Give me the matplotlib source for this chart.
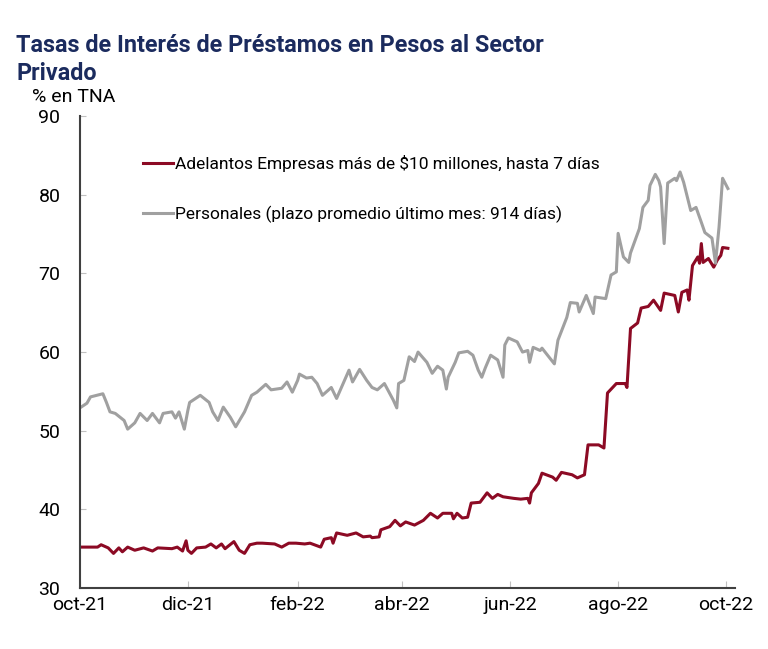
import pandas as pd
import matplotlib.pyplot as plt

plt.rcParams['font.family'] = ['Roboto', 'DejaVu Sans']

# Personales (gris)
pers_dates = [
    '2021-10-01', '2021-10-05', '2021-10-07', '2021-10-14', '2021-10-16', '2021-10-18',
    '2021-10-21', '2021-10-26', '2021-10-28', '2021-11-01', '2021-11-04', '2021-11-08',
    '2021-11-11', '2021-11-15', '2021-11-17', '2021-11-22', '2021-11-24', '2021-11-26',
    '2021-11-29', '2021-12-01', '2021-12-02', '2021-12-08', '2021-12-13', '2021-12-15',
    '2021-12-18', '2021-12-21', '2021-12-25', '2021-12-28', '2022-01-02', '2022-01-06',
    '2022-01-09', '2022-01-14', '2022-01-17', '2022-01-23', '2022-01-26', '2022-01-29',
    '2022-02-01', '2022-02-02', '2022-02-06', '2022-02-09', '2022-02-12', '2022-02-15',
    '2022-02-20', '2022-02-23', '2022-03-02', '2022-03-04', '2022-03-08', '2022-03-12',
    '2022-03-15', '2022-03-18', '2022-03-22', '2022-03-27', '2022-03-29', '2022-03-30',
    '2022-04-02', '2022-04-05', '2022-04-08', '2022-04-10', '2022-04-15', '2022-04-18',
    '2022-04-21', '2022-04-24', '2022-04-26', '2022-04-27', '2022-05-01', '2022-05-03',
    '2022-05-08', '2022-05-11', '2022-05-14', '2022-05-16', '2022-05-18', '2022-05-21',
    '2022-05-25', '2022-05-28', '2022-05-29', '2022-05-31', '2022-06-05', '2022-06-08',
    '2022-06-11', '2022-06-12', '2022-06-14', '2022-06-18', '2022-06-19', '2022-06-26',
    '2022-06-28', '2022-07-03', '2022-07-05', '2022-07-09', '2022-07-10', '2022-07-14',
    '2022-07-18', '2022-07-19', '2022-07-25', '2022-07-28', '2022-07-31', '2022-08-01',
    '2022-08-04', '2022-08-07', '2022-08-08', '2022-08-13', '2022-08-15', '2022-08-18',
    '2022-08-19', '2022-08-22', '2022-08-24', '2022-08-25', '2022-08-27', '2022-08-29',
    '2022-09-02', '2022-09-03', '2022-09-05', '2022-09-07', '2022-09-11', '2022-09-14',
    '2022-09-17', '2022-09-19', '2022-09-23', '2022-09-25', '2022-09-27', '2022-09-29',
    '2022-10-02',
]
pers_values = [
    52.9, 53.5, 54.3, 54.7, 53.6, 52.4,
    52.2, 51.3, 50.2, 51.0, 52.2, 51.3,
    52.2, 51.0, 52.2, 52.4, 51.6, 52.4,
    50.2, 52.6, 53.6, 54.5, 53.6, 52.4,
    51.3, 53.0, 51.7, 50.5, 52.4, 54.5,
    54.9, 55.9, 55.2, 55.4, 56.2, 54.9,
    56.4, 57.2, 56.7, 56.8, 56.0, 54.5,
    55.5, 54.1, 57.7, 56.2, 57.8, 56.4,
    55.5, 55.2, 56.0, 53.9, 52.9, 56.0,
    56.4, 59.4, 58.8, 60.0, 58.7, 57.3,
    58.2, 57.7, 55.3, 56.8, 58.7, 59.9,
    60.1, 59.6, 57.7, 56.8, 58.0, 59.6,
    59.0, 56.8, 60.9, 61.8, 61.3, 60.0,
    60.2, 58.7, 60.6, 60.2, 60.5, 58.5,
    61.5, 64.4, 66.3, 66.2, 65.1, 67.2,
    64.9, 67.0, 66.8, 69.8, 70.2, 75.1,
    72.1, 71.4, 72.6, 75.7, 78.4, 79.3,
    81.2, 82.6, 81.8, 81.0, 73.8, 81.5,
    82.1, 81.8, 82.9, 81.6, 78.0, 78.4,
    76.5, 75.2, 74.5, 71.3, 75.9, 82.1,
    80.8,
]

# Adelantos Empresas (rojo)
adel_dates = [
    '2021-10-01', '2021-10-11', '2021-10-13', '2021-10-17', '2021-10-20', '2021-10-23',
    '2021-10-25', '2021-10-28', '2021-11-01', '2021-11-06', '2021-11-11', '2021-11-14',
    '2021-11-22', '2021-11-25', '2021-11-28', '2021-11-30', '2021-12-01', '2021-12-03',
    '2021-12-06', '2021-12-11', '2021-12-14', '2021-12-17', '2021-12-20', '2021-12-22',
    '2021-12-27', '2021-12-30', '2022-01-02', '2022-01-05', '2022-01-09', '2022-01-12',
    '2022-01-19', '2022-01-23', '2022-01-27', '2022-01-31', '2022-02-05', '2022-02-08',
    '2022-02-14', '2022-02-16', '2022-02-20', '2022-02-21', '2022-02-23', '2022-03-01',
    '2022-03-06', '2022-03-10', '2022-03-14', '2022-03-15', '2022-03-19', '2022-03-20',
    '2022-03-25', '2022-03-28', '2022-03-31', '2022-04-03', '2022-04-08', '2022-04-13',
    '2022-04-17', '2022-04-21', '2022-04-24', '2022-04-29', '2022-04-30', '2022-05-02',
    '2022-05-05', '2022-05-08', '2022-05-10', '2022-05-15', '2022-05-19', '2022-05-22',
    '2022-05-25', '2022-05-28', '2022-06-03', '2022-06-07', '2022-06-11', '2022-06-12',
    '2022-06-13', '2022-06-17', '2022-06-19', '2022-06-25', '2022-06-27', '2022-06-30',
    '2022-07-06', '2022-07-09', '2022-07-13', '2022-07-15', '2022-07-21', '2022-07-24',
    '2022-07-26', '2022-07-31', '2022-08-05', '2022-08-06', '2022-08-08', '2022-08-12',
    '2022-08-14', '2022-08-18', '2022-08-21', '2022-08-25', '2022-08-27', '2022-09-02',
    '2022-09-04', '2022-09-06', '2022-09-09', '2022-09-10', '2022-09-12', '2022-09-15',
    '2022-09-16', '2022-09-17', '2022-09-18', '2022-09-21', '2022-09-24', '2022-09-26',
    '2022-09-28', '2022-09-29', '2022-10-02',
]
adel_values = [
    35.2, 35.2, 35.5, 35.1, 34.4, 35.1,
    34.6, 35.2, 34.8, 35.1, 34.7, 35.1,
    35.0, 35.2, 34.7, 36.0, 34.8, 34.4,
    35.1, 35.2, 35.6, 35.1, 35.6, 35.0,
    35.9, 34.8, 34.4, 35.5, 35.7, 35.7,
    35.6, 35.2, 35.7, 35.7, 35.6, 35.7,
    35.2, 36.2, 36.4, 35.7, 37.0, 36.7,
    37.0, 36.5, 36.6, 36.4, 36.5, 37.4,
    37.8, 38.6, 37.9, 38.4, 38.0, 38.6,
    39.5, 38.9, 39.5, 39.5, 38.8, 39.5,
    38.9, 39.0, 40.8, 40.9, 42.1, 41.4,
    41.9, 41.6, 41.4, 41.3, 41.4, 40.8,
    42.1, 43.3, 44.6, 44.1, 43.7, 44.7,
    44.4, 44.0, 44.4, 48.2, 48.2, 47.8,
    54.8, 56.0, 56.0, 55.5, 63.0, 63.7,
    65.6, 65.8, 66.6, 65.3, 67.5, 67.2,
    65.1, 67.6, 67.9, 66.6, 71.0, 72.1,
    71.3, 73.8, 71.4, 71.9, 70.8, 71.7,
    72.3, 73.3, 73.2,
]

tick_dates = ['2021-10-01', '2021-12-01', '2022-02-01', '2022-04-01',
              '2022-06-01', '2022-08-01', '2022-10-01']
tick_labels = ['oct-21', 'dic-21', 'feb-22', 'abr-22', 'jun-22', 'ago-22', 'oct-22']
y_ticks = [30, 40, 50, 60, 70, 80, 90]

RED = '#8c0a24'
GREY = '#a0a0a0'
NAVY = '#1b2b5e'

fig = plt.figure(figsize=(7.68, 6.49), dpi=100)
ax = fig.add_axes([0.104, 0.094, 0.853, 0.727])

ax.plot(pd.to_datetime(adel_dates), adel_values, color=RED, lw=2.2,
        label='Adelantos Empresas más de $10 millones, hasta 7 días')
ax.plot(pd.to_datetime(pers_dates), pers_values, color=GREY, lw=2.2,
        label='Personales (plazo promedio último mes: 914 días)')

ax.set_ylim(30, 90)
ax.set_yticks(y_ticks)
ax.set_xlim(pd.Timestamp('2021-10-01'), pd.Timestamp('2022-10-06'))
ax.set_xticks(pd.to_datetime(tick_dates))
ax.set_xticklabels(tick_labels)

for s in ['top', 'right']:
    ax.spines[s].set_visible(False)
for s in ['left', 'bottom']:
    ax.spines[s].set_color('#404040')
    ax.spines[s].set_linewidth(1.5)
ax.tick_params(axis='x', direction='in', length=5, color='#c0c0c0', labelsize=14, pad=6)
ax.tick_params(axis='y', direction='in', length=4, color='#c0c0c0', labelsize=14, pad=14)

ax.legend(loc='upper left', bbox_to_anchor=(0.096, 0.918), frameon=False,
          borderpad=0, borderaxespad=0,
          fontsize=12.5, handlelength=1.72, handletextpad=0.12, labelspacing=1.93)

# title in two lines, placed by baseline
fig.text(0.021, 0.920, 'Tasas de Interés de Préstamos en Pesos al Sector',
         fontsize=16.8, fontweight='bold', color=NAVY, va='baseline')
fig.text(0.021, 0.876, 'Privado',
         fontsize=16.8, fontweight='bold', color=NAVY, va='baseline')
fig.text(0.042, 0.843, '% en TNA', fontsize=14, va='baseline')

fig.savefig('out.png', dpi=100)
